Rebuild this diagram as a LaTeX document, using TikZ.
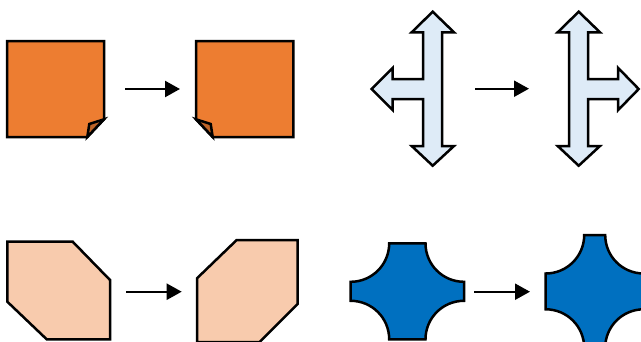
\documentclass[tikz,border=0pt]{standalone}
\usetikzlibrary{arrows.meta}
\definecolor{orangeA}{HTML}{ED7D31}
\definecolor{orangeD}{HTML}{BE6428}
\definecolor{peach}{HTML}{F8CBAD}
\definecolor{blueA}{HTML}{0070C0}
\definecolor{lightblue}{HTML}{DEEBF7}
\tikzset{
  shapeline/.style={draw=black, line width=2.5pt, line join=miter},
  arr/.style={draw=black, line width=2.3pt, -{Triangle[length=15pt,width=16pt]}},
}
\begin{document}
\begin{tikzpicture}[x=1pt,y=-1pt]
\useasboundingbox (0,0) rectangle (641,341);
\clip (0,0) rectangle (641,341);
% folded squares
\path[shapeline, fill=orangeA] (7,41) -- (104,41) -- (104,119.3) -- (87.3,137) -- (7,137) -- cycle;
\path[shapeline, fill=orangeD] (104,119.3) -- (89.3,124) -- (87.3,137) -- cycle;
\path[shapeline, fill=orangeA] (196,41) -- (293.3,41) -- (293.3,137) -- (212.7,137) -- (196,119.3) -- cycle;
\path[shapeline, fill=orangeD] (196,119.3) -- (210.7,124) -- (212.7,137) -- cycle;
% crosses
\path[shapeline, fill=lightblue] (432.7,11.7) -- (454,32.3) -- (442.2,32.3) -- (442.2,146) -- (454,146) -- (432.7,165.7) -- (411.7,146) -- (423.2,146) -- (423.2,99) -- (392.7,99) -- (392.7,110) -- (371.7,89) -- (392.7,68) -- (392.7,79) -- (423.2,79) -- (423.2,32.3) -- (411.7,32.3) -- cycle;
\path[shapeline, fill=lightblue] (578.7,11.7) -- (600,32.3) -- (588.2,32.3) -- (588.2,79) -- (618.2,79) -- (618.2,68) -- (638.7,89) -- (618.2,110) -- (618.2,99) -- (588.2,99) -- (588.2,146) -- (600,146) -- (578.7,165.7) -- (557.7,146) -- (569.2,146) -- (569.2,32.3) -- (557.7,32.3) -- cycle;
% snipped rectangles
\path[shapeline, fill=peach] (7.3,241.7) -- (72.7,241.7) -- (110,280) -- (110,339.3) -- (46.7,339.3) -- (7.3,301.7) -- cycle;
\path[shapeline, fill=peach] (197,278.3) -- (236.7,240) -- (297.7,240) -- (297.7,304) -- (259.7,342) -- (197,342) -- cycle;
% plaques
\path[shapeline, fill=blueA] (389.2,243.3) -- (425.5,243.3) .. controls (425.5,264.6) and (442.7,281.8) .. (464,281.8) -- (464,300.8) .. controls (442.7,300.8) and (425.5,318) .. (425.5,339.3) -- (389.2,339.3) .. controls (389.2,318) and (372,300.8) .. (350.7,300.8) -- (350.7,281.8) .. controls (372,281.8) and (389.2,264.6) .. (389.2,243.3) -- cycle;
\path[shapeline, fill=blueA] (584.2,235) -- (605.2,235) .. controls (605.2,256.3) and (622.4,273.5) .. (643.7,273.5) -- (643.7,309.3) .. controls (622.4,309.3) and (605.2,326.5) .. (605.2,347.8) -- (584.2,347.8) .. controls (584.2,326.5) and (567,309.3) .. (545.7,309.3) -- (545.7,273.5) .. controls (567,273.5) and (584.2,256.3) .. (584.2,235) -- cycle;
% arrows
\coordinate (a1s) at (125,89);
\coordinate (a1e) at (180,89);
\coordinate (a2s) at (475,88.7);
\coordinate (a2e) at (529,88.7);
\coordinate (a3s) at (126,291.7);
\coordinate (a3e) at (181.7,291.7);
\coordinate (a4s) at (474.3,291.7);
\coordinate (a4e) at (530,291.7);
\draw[arr] (a1s) -- (a1e);
\draw[arr] (a2s) -- (a2e);
\draw[arr] (a3s) -- (a3e);
\draw[arr] (a4s) -- (a4e);
\end{tikzpicture}
\end{document}
